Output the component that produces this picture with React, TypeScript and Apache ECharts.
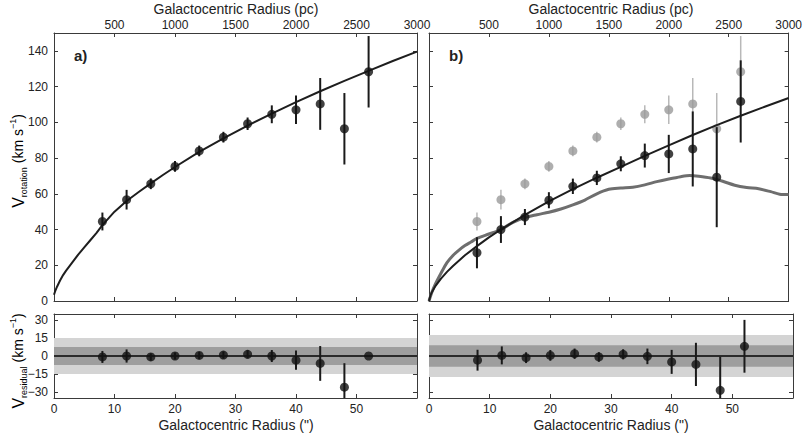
import React, { useEffect, useRef } from "react";
import * as echarts from "echarts";

// ---- Data ----
const radiusArcsec = [8, 12, 16, 20, 24, 28, 32, 36, 40, 44, 48, 52];
// panel a: observed rotation velocity
const vObs = [44.5, 56.7, 65.6, 75.3, 84.0, 91.7, 99.2, 104.5, 107.0, 110.3, 96.4, 128.3];
const vObsErr = [5, 5.5, 3, 3, 3, 3, 3.5, 5, 8, 14.5, 20, 20];
// panel b: corrected rotation velocity
const vCorr = [27, 40, 47, 56.4, 64.2, 68.9, 76.8, 81.4, 82.3, 85.1, 69.3, 111.7];
const vCorrErr = [8.7, 7.5, 4.5, 4.5, 4.3, 4, 4.2, 6.7, 10.7, 21, 28, 23];
// residuals
const residA = [-0.8, 0, -0.8, 0, 0.5, 0.8, 1.4, 0, -3.5, -6.2, -26, 0];
const residAErr = [5, 5.5, 3, 3, 3, 3, 3.5, 5, 8, 14.5, 20, 0];
const residB = [-3.5, 0.5, -1.4, 0.5, 1.9, -0.8, 1.4, -0.3, -4.9, -7, -28.6, 8.1];
const residBErr = [8.7, 7.5, 4.5, 4.5, 4.3, 4, 4.2, 6.5, 10, 18, 28, 22];
// residual bands (half widths): [light, dark]
const bandsA = [15, 7.5];
const bandsB = [17.5, 9];
// fit curve panel a
const fitAR = [0, 0.25, 0.5, 1, 1.5, 2, 3, 4, 5, 6, 7, 8, 10, 12, 14, 16, 18, 20, 24, 28, 32, 36, 40, 44, 48, 52, 56, 60];
const fitAV = [3.5, 6, 8, 11.5, 14.5, 17, 21.5, 26, 30, 34, 38, 42.5, 50, 56, 61, 65.8, 70.5, 75, 83.5, 91, 98.2, 104.9, 111.3, 117.4, 123.2, 128.8, 134.3, 139.6];
// fit curve panel b
const fitBR = [0, 0.25, 0.5, 1, 2, 3, 4, 6, 8, 10, 12, 16, 20, 24, 28, 32, 36, 40, 44, 48, 52, 56, 60];
const fitBV = [0, 3.2, 5.1, 8, 12.5, 16.3, 19.6, 25.6, 30.7, 35.6, 40, 48.2, 55.8, 62.6, 69, 75.1, 81.2, 87.1, 92.9, 98.4, 103.7, 108.7, 113.6];
// model (grey thick) curve panel b
const modelR = [0, 0.5, 1, 2, 3, 4, 5, 6, 7, 8, 10, 12, 14, 16, 18, 20, 22, 24, 26, 28, 30, 32, 34, 36, 38, 40, 42, 43.5, 45, 47, 49, 51, 53, 55, 57, 58.5, 60];
const modelV = [0, 5, 9, 15.5, 21.5, 25.5, 28.5, 31, 33, 35, 37.5, 40, 44, 46.7, 48.3, 49.7, 51.5, 53.8, 56.5, 60, 62.5, 63.2, 63.7, 65, 66.8, 68.3, 69.6, 70.2, 69.8, 68.8, 67, 64.8, 63.5, 62.8, 61.2, 59.8, 59.6];
// tick labels
const arcsecLabels = [0, 10, 20, 30, 40, 50];
const arcsecTicks = [10, 20, 30, 40, 50];
const pcLabels = [500, 1000, 1500, 2000, 2500, 3000];
const pcTicks = [500, 1000, 1500, 2000, 2500];
const vLabels = [0, 20, 40, 60, 80, 100, 120, 140];
const vTicks = [20, 40, 60, 80, 100, 120, 140];
const resLabels = [-30, -15, 0, 15, 30];

const FONT = "Liberation Sans, Arial, Helvetica, sans-serif";
const AX = "#3a3a3a";

const pairs = (a: number[], b: number[]) => a.map((v, i) => [v, b[i]]);
const errData = (x: number[], y: number[], e: number[]) =>
  x.map((v, i) => [v, y[i] - e[i], y[i] + e[i]]).filter((d, i) => e[i] > 0);
const minus = (v: number) => (v < 0 ? "\u2212" + Math.abs(v) : String(v));

function xAxis(grid: number, pos: "top" | "bottom", min: number, max: number, ticks: number[], labels: number[] | null) {
  return {
    type: "value",
    gridIndex: grid,
    position: pos,
    min,
    max,
    splitLine: { show: false },
    axisLine: { show: true, onZero: false, lineStyle: { color: AX, width: 1 } },
    axisTick: { show: true, inside: true, length: 4, customValues: ticks, lineStyle: { color: AX } },
    axisLabel: labels
      ? { show: true, customValues: labels, fontFamily: FONT, fontSize: 12, color: "#222", margin: pos === "top" ? 2 : 5, formatter: minus }
      : { show: false },
  };
}
function yAxis(grid: number, pos: "left" | "right", min: number, max: number, ticks: number[], labels: number[] | null) {
  return {
    type: "value",
    gridIndex: grid,
    position: pos,
    min,
    max,
    splitLine: { show: false },
    axisLine: { show: true, onZero: false, lineStyle: { color: AX, width: 1 } },
    axisTick: { show: true, inside: true, length: 4, customValues: ticks, lineStyle: { color: AX } },
    axisLabel: labels
      ? { show: true, customValues: labels, fontFamily: FONT, fontSize: 12, color: "#222", margin: 6, formatter: minus }
      : { show: false },
  };
}

function errSeries(xi: number, yi: number, data: number[][], color: string, width: number, z = 3) {
  return {
    type: "custom",
    xAxisIndex: xi,
    yAxisIndex: yi,
    clip: true,
    z,
    encode: { x: 0, y: [1, 2] },
    data,
    renderItem: (params: any, api: any) => {
      const p1 = api.coord([api.value(0), api.value(1)]);
      const p2 = api.coord([api.value(0), api.value(2)]);
      return {
        type: "line",
        shape: { x1: p1[0], y1: p1[1], x2: p2[0], y2: p2[1] },
        style: { stroke: color, lineWidth: width },
      };
    },
  };
}
function dots(xi: number, yi: number, data: number[][], color: string, z = 4) {
  return {
    type: "scatter",
    xAxisIndex: xi,
    yAxisIndex: yi,
    symbol: "circle",
    symbolSize: 9,
    z,
    itemStyle: { color, borderWidth: 0 },
    data,
  };
}
function curve(xi: number, yi: number, data: number[][], color: string, width: number, z = 2, smooth: any = false) {
  return {
    type: "line",
    xAxisIndex: xi,
    yAxisIndex: yi,
    showSymbol: false,
    smooth,
    z,
    lineStyle: { color, width },
    data,
  };
}
function bands(xi: number, yi: number, b: number[]) {
  return {
    type: "custom",
    xAxisIndex: xi,
    yAxisIndex: yi,
    clip: true,
    z: 1,
    encode: { x: 0, y: [1, 2] },
    data: [
      [0, -b[0], b[0], 0],
      [0, -b[1], b[1], 1],
    ],
    renderItem: (params: any, api: any) => {
      const cs = params.coordSys;
      const yTop = api.coord([0, api.value(2)])[1];
      const yBot = api.coord([0, api.value(1)])[1];
      return {
        type: "rect",
        shape: { x: cs.x, y: yTop, width: cs.width, height: yBot - yTop },
        style: { fill: api.value(3) === 0 ? "#d4d4d4" : "#9e9e9e" },
      };
    },
  };
}

const yLabelRich = {
  v: { fontFamily: FONT, fontSize: 16, lineHeight: 20, color: "#222", verticalAlign: "middle" },
  t: { fontFamily: FONT, fontSize: 14, lineHeight: 20, color: "#222", verticalAlign: "middle" },
  sub: { fontFamily: FONT, fontSize: 9, lineHeight: 10, color: "#222", verticalAlign: "bottom" },
  sup: { fontFamily: FONT, fontSize: 9, lineHeight: 10, color: "#222", verticalAlign: "top" },
};

export default function App() {
  const ref = useRef<HTMLDivElement>(null);
  useEffect(() => {
    if (!ref.current) return;
    const chart = echarts.init(ref.current, null, { renderer: "svg" });
    const option: any = {
      animation: false,
      backgroundColor: "#ffffff",
      grid: [
        { left: 54, top: 33, width: 363, height: 268 },
        { left: 429, top: 33, width: 364, height: 268 },
        { left: 54, top: 314, width: 363, height: 84 },
        { left: 429, top: 314, width: 364, height: 84 },
      ],
      xAxis: [
        xAxis(0, "bottom", 0, 60, arcsecTicks, null),
        xAxis(0, "top", 0, 3000, pcTicks, pcLabels),
        xAxis(1, "bottom", 0, 60, arcsecTicks, null),
        xAxis(1, "top", 0, 3000, pcTicks, pcLabels),
        xAxis(2, "bottom", 0, 60, arcsecTicks, arcsecLabels),
        xAxis(2, "top", 0, 60, arcsecTicks, null),
        xAxis(3, "bottom", 0, 60, arcsecTicks, arcsecLabels),
        xAxis(3, "top", 0, 60, arcsecTicks, null),
      ],
      yAxis: [
        yAxis(0, "left", 0, 150, vTicks, vLabels),
        yAxis(0, "right", 0, 150, vTicks, null),
        yAxis(1, "left", 0, 150, vTicks, null),
        yAxis(1, "right", 0, 150, vTicks, null),
        yAxis(2, "left", -35, 35, resLabels, resLabels),
        yAxis(2, "right", -35, 35, resLabels, null),
        yAxis(3, "left", -35, 35, resLabels, null),
        yAxis(3, "right", -35, 35, resLabels, null),
      ],
      series: [
        // panel a
        curve(0, 0, pairs(fitAR, fitAV), "#1e1e1e", 2),
        errSeries(0, 0, errData(radiusArcsec, vObs, vObsErr), "#1a1a1a", 2),
        dots(0, 0, pairs(radiusArcsec, vObs), "#111"),
        // panel b
        errSeries(2, 2, errData(radiusArcsec, vObs, vObsErr), "#b8b8b8", 1.5, 1),
        dots(2, 2, pairs(radiusArcsec, vObs), "#9a9a9a", 1),
        curve(2, 2, pairs(modelR, modelV), "#6e6e6e", 3, 2, 0.3),
        curve(2, 2, pairs(fitBR, fitBV), "#1e1e1e", 2, 3),
        errSeries(2, 2, errData(radiusArcsec, vCorr, vCorrErr), "#1a1a1a", 2, 4),
        dots(2, 2, pairs(radiusArcsec, vCorr), "#111", 5),
        // residual a
        bands(4, 4, bandsA),
        curve(4, 4, [[0, 0], [60, 0]], "#2a2a2a", 2, 2),
        errSeries(4, 4, errData(radiusArcsec, residA, residAErr), "#1a1a1a", 2),
        dots(4, 4, pairs(radiusArcsec, residA), "#111"),
        // residual b
        bands(6, 6, bandsB),
        curve(6, 6, [[0, 0], [60, 0]], "#2a2a2a", 2, 2),
        errSeries(6, 6, errData(radiusArcsec, residB, residBErr), "#1a1a1a", 2),
        dots(6, 6, pairs(radiusArcsec, residB), "#111"),
      ],
      graphic: [
        { type: "text", x: 236, y: 9, style: { text: "Galactocentric Radius (pc)", fontFamily: FONT, fontSize: 14, fill: "#222", align: "center", verticalAlign: "middle" } },
        { type: "text", x: 611, y: 9, style: { text: "Galactocentric Radius (pc)", fontFamily: FONT, fontSize: 14, fill: "#222", align: "center", verticalAlign: "middle" } },
        { type: "text", x: 236, y: 425, style: { text: 'Galactocentric Radius (")', fontFamily: FONT, fontSize: 14, fill: "#222", align: "center", verticalAlign: "middle" } },
        { type: "text", x: 611, y: 425, style: { text: 'Galactocentric Radius (")', fontFamily: FONT, fontSize: 14, fill: "#222", align: "center", verticalAlign: "middle" } },
        { type: "text", x: 74, y: 55, style: { text: "a)", fontFamily: FONT, fontSize: 15, fontWeight: "bold", fill: "#222", align: "left", verticalAlign: "middle" } },
        { type: "text", x: 449, y: 55, style: { text: "b)", fontFamily: FONT, fontSize: 15, fontWeight: "bold", fill: "#222", align: "left", verticalAlign: "middle" } },
        {
          type: "text", x: 18, y: 161, rotation: Math.PI / 2,
          style: { text: "{v|V}{sub|rotation}{t| (km s}{sup|\u22121}{t|)}", rich: yLabelRich, align: "center", verticalAlign: "middle" },
        },
        {
          type: "text", x: 18, y: 361, rotation: Math.PI / 2,
          style: { text: "{v|V}{sub|residual}{t| (km s}{sup|\u22121}{t|)}", rich: yLabelRich, align: "center", verticalAlign: "middle" },
        },
      ],
    };
    chart.setOption(option);
    return () => chart.dispose();
  }, []);
  return <div ref={ref} style={{ position: "fixed", left: 0, top: 0, width: 805, height: 438, background: "#fff" }} />;
}
